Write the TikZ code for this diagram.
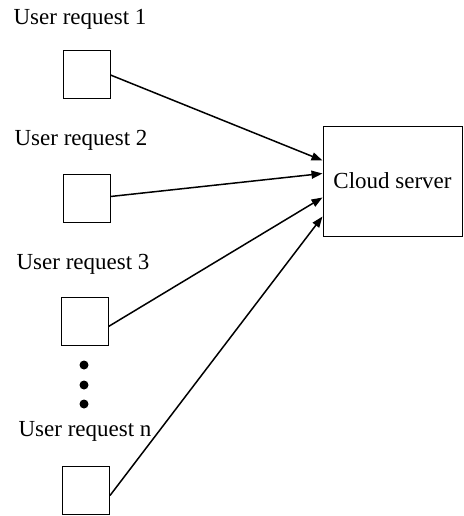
\documentclass[tikz,border=0pt]{standalone}
\usepackage{fontspec}
\setmainfont{Liberation Serif}
\usetikzlibrary{arrows.meta,calc}
\begin{document}
\begin{tikzpicture}[x=1pt,y=-1pt,
  reqbox/.style={draw,line width=1pt,minimum width=47pt,minimum height=48pt,inner sep=0pt},
  lbl/.style={font=\fontsize{23}{27}\selectfont,inner sep=0pt},
  conn/.style={line width=1.5pt,-{Triangle[length=11pt,width=8pt]}},
  dot/.style={circle,fill=black,minimum size=9pt,inner sep=0pt}]
\useasboundingbox (0,0) rectangle (463,516);
\node[reqbox] (b1) at (86.5,75) {};
\node[reqbox] (b2) at (86.5,198.5) {};
\node[reqbox] (b3) at (84.5,321.5) {};
\node[reqbox] (bn) at (86,490.5) {};
\node[draw,line width=1pt,minimum width=139pt,minimum height=110pt,inner sep=0pt,lbl] (cloud) at (392.5,181) {Cloud server};
\node[lbl] (l1) at (80,19) {User request 1};
\node[lbl] (l2) at (81,140) {User request 2};
\node[lbl] (l3) at (83,264) {User request 3};
\node[lbl] (ln) at (85,431) {User request n};
\node[dot] (d1) at (84,365) {};
\node[dot] (d2) at (84,385) {};
\node[dot] (d3) at (84,404) {};
\coordinate (t1) at ($(cloud.north west)+(0,35)$);
\coordinate (t2) at ($(cloud.north west)+(0,48)$);
\coordinate (t3) at ($(cloud.north west)+(0,72)$);
\coordinate (t4) at ($(cloud.north west)+(0,91)$);
\draw[conn] (b1.east) -- (t1);
\draw[conn] ($(b2.east)+(0,-2)$) -- (t2);
\draw[conn] ($(b3.east)+(0,5)$) -- (t3);
\draw[conn] ($(bn.east)+(0,5)$) -- (t4);
\end{tikzpicture}
\end{document}
